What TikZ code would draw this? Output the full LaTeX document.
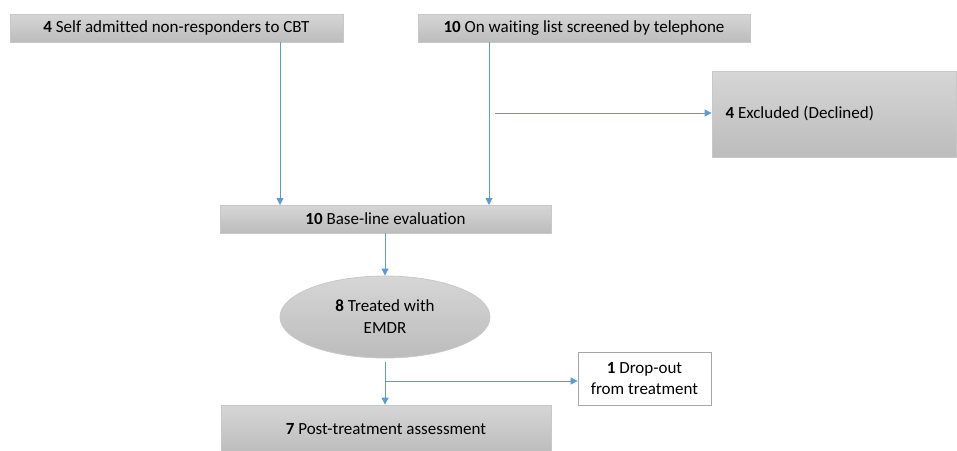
\documentclass[tikz,border=0pt]{standalone}
\usepackage{fontspec}
\setmainfont{Carlito}[Ligatures=CommonOff]
\usetikzlibrary{shapes.geometric,arrows.meta}
\definecolor{arrowblue}{RGB}{91,155,213}
\definecolor{boxtop}{RGB}{214,214,214}
\definecolor{boxbot}{RGB}{188,188,188}
\definecolor{boxedge}{RGB}{200,200,200}
\tikzset{
  graybox/.style={draw=boxedge, line width=0.8pt, top color=boxtop, bottom color=boxbot, inner sep=0pt, font=\fontsize{17}{22}\selectfont},
  whitebox/.style={draw=gray!70, line width=0.8pt, fill=white, inner sep=0pt, align=center, font=\fontsize{17}{21}\selectfont},
  conn/.style={draw=arrowblue, line width=0.9pt, -{Triangle[length=7pt,width=7pt]}}
}
\begin{document}
\begin{tikzpicture}[x=1pt,y=-1pt]
\useasboundingbox (0,0) rectangle (957,450);
\node[graybox, minimum width=333pt, minimum height=28pt] (A) at (176.5,28) {\textbf{4} Self admitted non-responders to CBT};
\node[graybox, minimum width=332pt, minimum height=28pt] (B) at (584,28) {\textbf{10} On waiting list screened by telephone};
\node[graybox, minimum width=244pt, minimum height=86pt] (X) at (834,114) {};
\node[anchor=west, font=\fontsize{17}{21}\selectfont] (Xt) at (722,113) {\textbf{4} Excluded (Declined)};
\node[graybox, minimum width=331pt, minimum height=28pt] (C) at (385.5,219) {\textbf{10} Base-line evaluation};
\node[ellipse, graybox, minimum width=210pt, minimum height=82pt, align=center] (E) at (385,317) {\textbf{8} Treated with\\EMDR};
\node[whitebox, minimum width=133pt, minimum height=53pt] (D) at (644.5,378.5) {\textbf{1} Drop-out\\from treatment};
\node[graybox, minimum width=330pt, minimum height=48pt] (P) at (386,429) {\textbf{7} Post-treatment assessment};
\coordinate (ax) at (280,205);
\coordinate (bx) at (489,205);
\coordinate (xs) at (495,113);
\coordinate (es) at (385,362);
\coordinate (ds) at (385,381);
\draw[conn] (A.south -| ax) -- (ax);
\draw[conn] (B.south -| bx) -- (bx);
\draw[conn] (xs) -- (X.west |- xs);
\draw[conn] (C.south -| E.north) -- (E.north);
\draw[conn] (es) -- (P.north -| es);
\draw[conn] (ds) -- (D.west |- ds);
\end{tikzpicture}
\end{document}
